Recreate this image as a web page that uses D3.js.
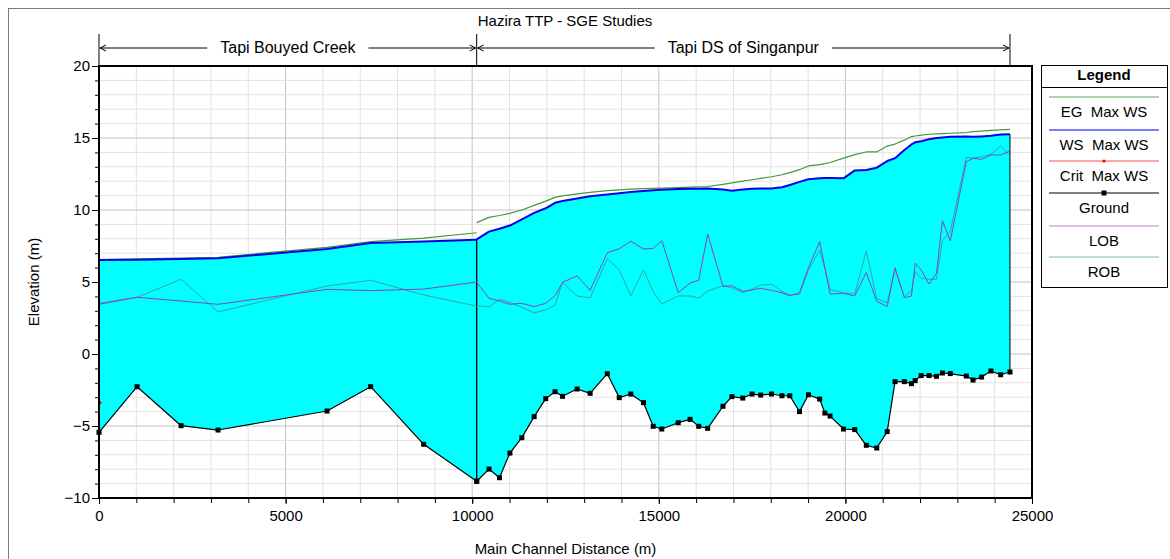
<!DOCTYPE html>
<html>
<head>
<meta charset="utf-8">
<script src="https://cdn.jsdelivr.net/npm/d3@7"></script>
<style>
  body { margin: 0; background: #fff; }
  svg { display: block; font-family: "Liberation Sans", Arial, sans-serif; }
</style>
</head>
<body>
<div id="chart"></div>
<script>
// Reach 1: Tapi Bouyed Creek
const stationsL = [0, 1020, 2200, 3190, 6110, 7280, 8700, 10120];
const groundL = [-5.44, -2.27, -4.98, -5.28, -3.96, -2.27, -6.27, -8.84];
const wsL = [6.53, 6.55, 6.6, 6.65, 7.29, 7.71, 7.82, 7.93];
const egL = [6.55, 6.6, 6.66, 6.72, 7.41, 7.8, 8.05, 8.42];
const lobL = [3.45, 3.94, 3.68, 3.45, 4.49, 4.4, 4.51, 5.0];
const robL = [3.52, 3.94, 5.19, 2.92, 4.72, 5.12, 4.1, 3.33];

// Reach 2: Tapi DS of Singanpur
const stationsR = [10120, 10450, 10730, 11010, 11330, 11660, 11970, 12220, 12420, 12810,
  13160, 13620, 13940, 14250, 14590, 14850, 15080, 15520, 15840, 16070,
  16310, 16720, 16960, 17250, 17500, 17730, 18020, 18300, 18510, 18770,
  19010, 19310, 19450, 19590, 19950, 20250, 20560, 20840, 21120, 21330,
  21580, 21770, 21870, 22030, 22240, 22440, 22600, 22810, 23240, 23420,
  23650, 23900, 24160, 24410];
const groundR = [-8.84, -7.99, -8.59, -6.88, -5.81, -4.35, -3.1, -2.62, -2.94, -2.43,
  -2.73, -1.37, -3.03, -2.78, -3.38, -5.02, -5.21, -4.77, -4.54, -5.02,
  -5.16, -3.63, -2.96, -3.06, -2.78, -2.85, -2.78, -2.9, -2.9, -4.0,
  -2.83, -3.13, -4.1, -4.31, -5.21, -5.25, -6.34, -6.53, -5.39, -1.92,
  -1.92, -2.06, -1.85, -1.5, -1.5, -1.55, -1.32, -1.36, -1.53, -1.81,
  -1.6, -1.18, -1.44, -1.25];
const wsR = [7.96, 8.5, 8.7, 8.92, 9.35, 9.8, 10.12, 10.5, 10.62, 10.8,
  10.95, 11.08, 11.17, 11.25, 11.32, 11.37, 11.4, 11.45, 11.47, 11.48,
  11.5, 11.42, 11.34, 11.42, 11.48, 11.5, 11.5, 11.58, 11.74, 11.95,
  12.13, 12.2, 12.22, 12.22, 12.2, 12.75, 12.78, 12.94, 13.4, 13.6,
  14.17, 14.55, 14.7, 14.78, 14.92, 15.0, 15.04, 15.08, 15.1, 15.08,
  15.11, 15.15, 15.25, 15.26];
const egR = [9.12, 9.49, 9.62, 9.77, 10.0, 10.32, 10.62, 10.88, 10.98, 11.12,
  11.22, 11.34, 11.4, 11.45, 11.48, 11.5, 11.52, 11.56, 11.59, 11.61,
  11.63, 11.78, 11.88, 12.0, 12.1, 12.2, 12.31, 12.45, 12.6, 12.8,
  13.06, 13.15, 13.22, 13.3, 13.6, 13.85, 14.03, 14.03, 14.44, 14.58,
  14.85, 15.1, 15.14, 15.2, 15.26, 15.28, 15.3, 15.33, 15.38, 15.44,
  15.48, 15.53, 15.57, 15.6];
const lobR = [4.98, 3.87, 3.68, 3.45, 3.52, 3.29, 3.52, 4.05, 4.98, 5.42,
  4.42, 7.04, 7.31, 7.83, 7.29, 7.34, 7.87, 4.26, 4.93, 5.12,
  8.33, 4.7, 4.74, 4.35, 4.45, 4.56, 4.42, 4.25, 4.05, 4.26,
  6.0, 7.8, 6.0, 4.17, 4.21, 4.03, 5.67, 3.66, 3.29, 6.0,
  3.91, 4.03, 6.3, 5.83, 4.86, 5.6, 9.26, 7.85, 13.35, 13.59,
  13.52, 13.82, 13.82, 14.1];
const robR = [3.36, 3.26, 3.8, 3.59, 3.24, 2.85, 3.06, 3.4, 4.98, 4.03,
  3.89, 6.62, 5.83, 4.05, 5.83, 4.33, 3.47, 4.03, 4.03, 3.89,
  4.38, 4.74, 4.6, 4.26, 4.5, 4.79, 4.84, 4.35, 4.1, 4.14,
  5.8, 7.22, 5.9, 4.49, 4.26, 4.17, 7.15, 3.84, 3.56, 5.88,
  3.98, 4.38, 5.72, 5.26, 5.19, 5.19, 7.87, 8.5, 13.66, 13.59,
  13.7, 13.87, 14.44, 13.77];

const critStations = [0];
const critValues = [-3.38];

const reachNames = ["Tapi Bouyed Creek", "Tapi DS of Singanpur"];
const reachStart = [0, 10120];
const reachEnd = [10120, 24410];

const legendNames = ["EG  Max WS", "WS  Max WS", "Crit  Max WS", "Ground", "LOB", "ROB"];
const titleText = "Hazira TTP - SGE Studies";

const W = 1170, H = 559;
const font = 15;

const reaches = [
  { s: stationsL, g: groundL, ws: wsL, eg: egL, lob: lobL, rob: robL },
  { s: stationsR, g: groundR, ws: wsR, eg: egR, lob: lobR, rob: robR }
].map(r => r.s.map((s, i) => ({ s, g: r.g[i], ws: r.ws[i], eg: r.eg[i], lob: r.lob[i], rob: r.rob[i] })));

const svg = d3.select('#chart').append('svg').attr('width', W).attr('height', H);

// outer frame
svg.append('rect').attr('x', 8.5).attr('y', 8.5).attr('width', W).attr('height', H)
  .attr('fill', 'none').attr('stroke', '#7a7a7a');

const x = d3.scaleLinear().domain([0, 25000]).range([99, 1032]);
const y = d3.scaleLinear().domain([-10, 20]).range([498, 66]);

// grid
const grid = svg.append('g');
grid.selectAll('.vx').data(d3.range(1000, 25000, 1000)).enter().append('line')
  .attr('x1', d => x(d)).attr('x2', d => x(d)).attr('y1', y(-10)).attr('y2', y(20))
  .attr('stroke', d => d % 5000 === 0 ? '#c4c4c4' : '#e2e2e2');
grid.selectAll('.hy').data(d3.range(-9, 20, 1)).enter().append('line')
  .attr('x1', x(0)).attr('x2', x(25000)).attr('y1', d => y(d)).attr('y2', d => y(d))
  .attr('stroke', d => d % 5 === 0 ? '#c4c4c4' : '#e2e2e2');

// water fill
const area = d3.area().x(d => x(d.s)).y0(d => y(d.g)).y1(d => y(d.ws));
reaches.forEach(r => {
  svg.append('path').datum(r).attr('d', area).attr('fill', '#00ffff');
});

// reach end lines
reaches.forEach(r => {
  [r[0], r[r.length - 1]].forEach(d => {
    svg.append('line').attr('x1', x(d.s)).attr('x2', x(d.s))
      .attr('y1', y(d.ws)).attr('y2', y(d.g)).attr('stroke', '#000');
  });
});

function drawSeries(key, color, width) {
  const line = d3.line().x(d => x(d.s)).y(d => y(d[key]));
  reaches.forEach(r => {
    svg.append('path').datum(r).attr('d', line).attr('fill', 'none')
      .attr('stroke', color).attr('stroke-width', width).attr('stroke-linejoin', 'round');
  });
}
drawSeries('rob', '#35a3a3', 1);
drawSeries('lob', '#8a44bc', 1);
drawSeries('eg', '#3e9a3e', 1.2);
drawSeries('ws', '#0000e6', 2);
drawSeries('g', '#000', 1.2);

// ground markers
reaches.forEach(r => {
  svg.append('g').selectAll('rect').data(r).enter().append('rect')
    .attr('x', d => x(d.s) - 2.5).attr('y', d => y(d.g) - 2.5)
    .attr('width', 5).attr('height', 5).attr('fill', '#000');
});

// crit
svg.selectAll('.crit').data(critStations).enter().append('circle')
  .attr('cx', d => x(d) + 1).attr('cy', (d, i) => y(critValues[i]))
  .attr('r', 1.6).attr('fill', '#ff0000');

// axes
const yAxis = svg.append('g').attr('transform', `translate(${x(0)},0)`)
  .call(d3.axisLeft(y).tickValues(d3.range(-10, 21, 5)).tickSize(7).tickSizeOuter(0).tickPadding(2));
const yMinor = svg.append('g').attr('transform', `translate(${x(0)},0)`)
  .call(d3.axisLeft(y).tickValues(d3.range(-10, 21, 1)).tickSize(4).tickFormat('').tickSizeOuter(0));
const xAxis = svg.append('g').attr('transform', `translate(0,${y(-10)})`)
  .call(d3.axisBottom(x).tickValues(d3.range(0, 25001, 5000)).tickFormat(d3.format('d'))
    .tickSize(6).tickSizeOuter(0).tickPadding(6));
const xMinor = svg.append('g').attr('transform', `translate(0,${y(-10)})`)
  .call(d3.axisBottom(x).tickValues(d3.range(0, 25001, 1000)).tickSize(5).tickFormat('').tickSizeOuter(0));
[yAxis, yMinor, xAxis, xMinor].forEach(a => {
  a.select('.domain').remove();
  a.selectAll('line').attr('stroke', '#000');
  a.selectAll('text').attr('font-size', font).attr('font-family', '"Liberation Sans", Arial, sans-serif').attr('fill', '#000');
});

// plot frame
svg.append('rect').attr('x', x(0)).attr('y', y(20)).attr('width', x(25000) - x(0)).attr('height', y(-10) - y(20))
  .attr('fill', 'none').attr('stroke', '#000').attr('stroke-width', 2);

// titles
svg.append('text').attr('x', 565).attr('y', 26).attr('text-anchor', 'middle').attr('font-size', font).text(titleText);
svg.append('text').attr('x', (x(0) + x(25000)) / 2).attr('y', 554).attr('text-anchor', 'middle')
  .attr('font-size', font).text('Main Channel Distance (m)');
svg.append('text').attr('transform', `translate(39,${(y(-10) + y(20)) / 2}) rotate(-90)`)
  .attr('text-anchor', 'middle').attr('font-size', font).text('Elevation (m)');

// reach banner
const banner = svg.append('g');
const by = 48;
reachNames.forEach((name, i) => {
  const x0 = x(reachStart[i]), x1 = x(reachEnd[i]), xm = (x0 + x1) / 2;
  const t = banner.append('text').attr('x', xm).attr('y', by + 5).attr('text-anchor', 'middle')
    .attr('font-size', font + 1).text(name);
  const half = t.node().getComputedTextLength() / 2 + 13;
  banner.append('path').attr('fill', 'none').attr('stroke', '#000').attr('stroke-width', 1)
    .attr('d', `M${x0 + 1},${by}H${xm - half}M${xm + half},${by}H${x1 - 1}` +
      `M${x0 + 7},${by - 3}L${x0 + 1},${by}L${x0 + 7},${by + 3}` +
      `M${x1 - 7},${by - 3}L${x1 - 1},${by}L${x1 - 7},${by + 3}`);
});
d3.union(reachStart, reachEnd).forEach(s => {
  banner.append('line').attr('x1', x(s)).attr('x2', x(s)).attr('y1', 34).attr('y2', y(20))
    .attr('stroke', '#000');
});

// legend
const lg = svg.append('g');
lg.append('rect').attr('x', 1041.5).attr('y', 65.5).attr('width', 126).attr('height', 222)
  .attr('fill', '#fff').attr('stroke', '#000');
lg.append('text').attr('x', 1104).attr('y', 80).attr('text-anchor', 'middle')
  .attr('font-size', font).attr('font-weight', 'bold').text('Legend');
lg.append('line').attr('x1', 1041).attr('x2', 1168).attr('y1', 87.5).attr('y2', 87.5).attr('stroke', '#000');
const legColors = ['#5fae5f', '#5050ff', '#ff5050', '#000', '#c080c8', '#70bcbc'];
const legLineY = [97, 130, 161, 193, 226, 257];
legendNames.forEach((name, i) => {
  const ly = legLineY[i];
  lg.append('line').attr('x1', 1049).attr('x2', 1159).attr('y1', ly).attr('y2', ly)
    .attr('stroke', legColors[i]).attr('stroke-width', i === 1 ? 1.5 : 1.2);
  lg.append('text').attr('x', 1104).attr('y', ly + 20).attr('text-anchor', 'middle')
    .attr('font-size', font).style('white-space', 'pre').text(name);
});
lg.append('circle').attr('cx', 1104).attr('cy', 161).attr('r', 1.6).attr('fill', '#ff0000');
lg.append('rect').attr('x', 1101.5).attr('y', 190.5).attr('width', 5).attr('height', 5).attr('fill', '#000');
</script>
</body>
</html>
